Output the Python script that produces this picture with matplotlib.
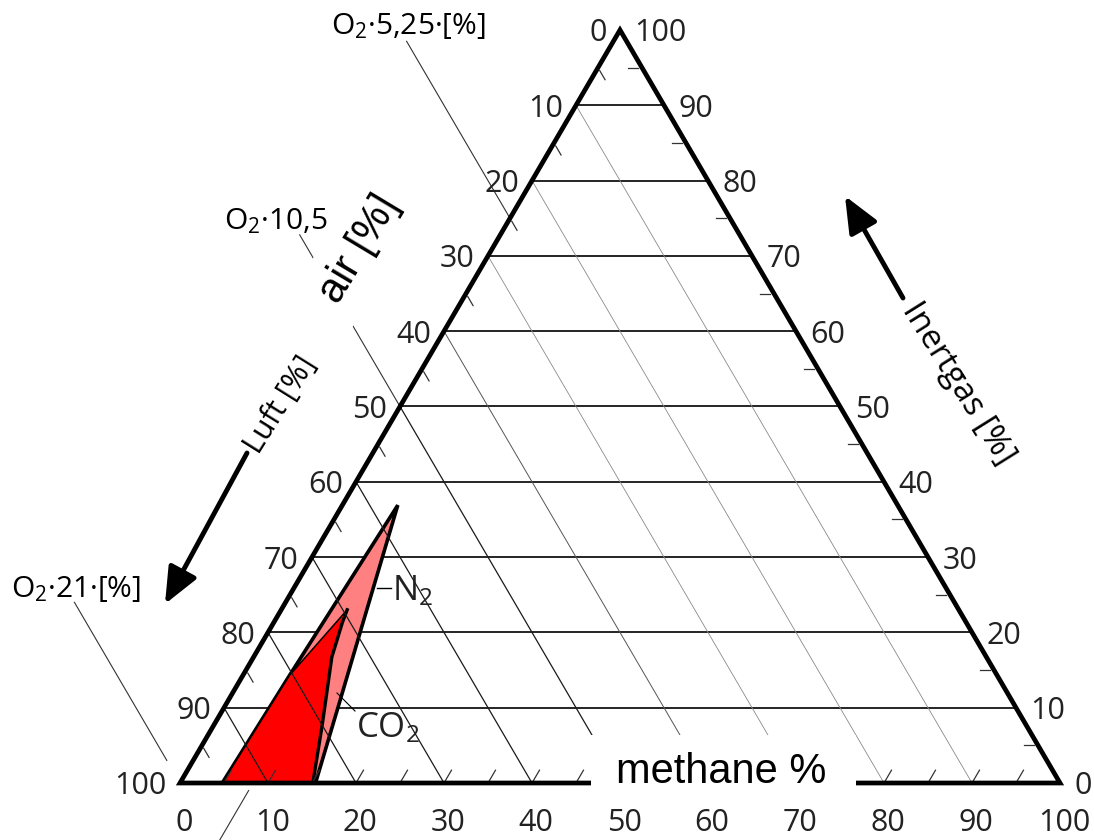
import numpy as np
import matplotlib.pyplot as plt
from matplotlib.patches import Polygon, Rectangle

plt.rcParams['font.family'] = ['Open Sans', 'DejaVu Sans']
plt.rcParams['mathtext.fontset'] = 'custom'
plt.rcParams['mathtext.rm'] = 'Open Sans'
plt.rcParams['mathtext.it'] = 'Open Sans:italic'
plt.rcParams['mathtext.bf'] = 'Open Sans:bold'

# scale values in percent
major = list(range(0, 101, 10))
minor = list(range(5, 100, 10))
bottom_ticks = list(range(5, 100, 5))

# explosion range methane + N2, boundary as (methane %, inert gas %)
n2_methane = [4.8, 5.3, 6.3, 9.9, 12.7, 15.4]
n2_inert = [0.0, 14.3, 36.9, 22.3, 11.0, 0.0]

# explosion range methane + CO2
co2_methane = [4.8, 5.3, 7.5, 7.8, 8.9, 12.2, 15.1]
co2_inert = [0.0, 14.3, 23.0, 21.3, 16.7, 8.0, 0.0]

# oxygen lines = lines of constant air (O2 = 0.21 * air), drawn out of the triangle
o2_text = ['O$_2$·5,25·[%]', 'O$_2$·10,5', 'O$_2$·21·[%]']
o2_air = [25, 50, 100]
o2_m_start = [-23.5, -22.8, -24.0]
o2_m_end = [0.0, 0.0, -3.0]

SQ3 = np.sqrt(3) / 2
W, H = 1094, 840


def tern(methane, inert):
    m = np.asarray(methane, dtype=float)
    i = np.asarray(inert, dtype=float)
    return m + i / 2, i * SQ3


def pt(methane, inert):
    x, y = tern(methane, inert)
    return float(x), float(y)


def fpx(px, py):
    # pixel position on the 1094x840 canvas -> axes fraction (axes = whole figure)
    return px / W, 1 - py / H


fig = plt.figure(figsize=(W / 100, H / 100), dpi=100)
ax = fig.add_axes([0, 0, 1, 1])
ax.set_xlim(-180 / 8.8, (W - 180) / 8.8)
ax.set_ylim(-(H - 783) / 8.695, 783 / 8.695)
ax.axis('off')

# horizontal lines = constant inert gas
for i in major[1:-1]:
    x, y = tern([0, 100 - i], [i, i])
    ax.plot(x, y, color='black', lw=1.2, zorder=1)

# slanted lines = constant air
for a in major[1:-1]:
    x, y = tern([0, 100 - a], [100 - a, 0])
    if a >= 50:
        c, w = '#1a1a1a', 0.9
    elif a == 40:
        c, w = '#555555', 0.7
    else:
        c, w = '#8a8a8a', 0.6
    ax.plot(x, y, color=c, lw=w, zorder=3)

# small ticks
for i in minor:
    x, y = tern([0.4, 1.6], [i - 0.4, i - 1.6])
    ax.plot(x, y, color='#333333', lw=0.9, zorder=3)
    x, y = tern([100 - i - 0.4, 100 - i - 1.6], [i, i])
    ax.plot(x, y, color='#333333', lw=0.9, zorder=3)
for m in bottom_ticks:
    x, y = tern([m, m], [0.3, 1.7])
    ax.plot(x, y, color='#333333', lw=0.9, zorder=3)

# explosion ranges
x, y = tern(n2_methane, n2_inert)
ax.add_patch(Polygon(np.column_stack([x, y]), closed=True, fc='#ff8080',
                     ec='black', lw=2.6, joinstyle='miter', zorder=2))
x, y = tern(co2_methane, co2_inert)
ax.add_patch(Polygon(np.column_stack([x, y]), closed=True, fc='#ff0000',
                     ec='black', lw=1.1, joinstyle='miter', zorder=2.5))
ax.plot(x[2:], y[2:], color='black', lw=2.4, zorder=2.6)

# triangle frame
x, y = tern([0, 100, 0], [0, 0, 100])
ax.add_patch(Polygon(np.column_stack([x, y]), closed=True, fill=False,
                     ec='black', lw=3.4, joinstyle='miter', zorder=5))

# scale labels
for i in major:
    ax.annotate(str(100 - i), pt(0, i), xytext=(-9.5, 0), textcoords='offset points',
                ha='right', va='center_baseline', fontsize=22, color='#222222', zorder=7)
    ax.annotate(str(i), pt(100 - i, i), xytext=(10.5, 0), textcoords='offset points',
                ha='left', va='center_baseline', fontsize=22, color='#222222', zorder=7)
for m in major:
    ax.annotate(str(m), pt(m, 0), xytext=(3, -26), textcoords='offset points',
                ha='center', va='center_baseline', fontsize=22, color='#222222', zorder=7)

# O2 lines and labels
o2_offsets = [(1, 5), (-17, 4), (1, 4)]
for txt, a, m0, m1, off in zip(o2_text, o2_air, o2_m_start, o2_m_end, o2_offsets):
    x, y = tern([m0, m1], [100 - a - m0, 100 - a - m1])
    ax.plot(x, y, color='#333333', lw=0.8, zorder=3)
    ax.annotate(txt, (float(x[0]), float(y[0])), xytext=off, textcoords='offset points',
                ha='center', va='baseline', fontsize=21.5, zorder=7)

# leader below the bottom edge
x, y = tern([8.3, 8.3], [-1.0, -9.0])
ax.plot(x, y, color='#333333', lw=0.8, zorder=3)

# N2 / CO2 labels with leaders
ax.plot(*zip(fpx(377, 588), fpx(391, 588)), transform=ax.transAxes,
        color='black', lw=1.0, zorder=3)
ax.plot(*zip(fpx(337, 693), fpx(355, 711)), transform=ax.transAxes,
        color='black', lw=0.8, zorder=3)
ax.text(*fpx(392, 600), 'N$_2$', transform=ax.transAxes, fontsize=25,
        ha='left', va='baseline', color='#222222', zorder=7)
ax.text(*fpx(356, 737), 'CO$_2$', transform=ax.transAxes, fontsize=25,
        ha='left', va='baseline', color='#222222', zorder=7)

# axis titles with arrows
arrow_style = dict(arrowstyle='-|>,head_length=1.05,head_width=0.45',
                   lw=3.5, color='black', mutation_scale=21,
                   shrinkA=0, shrinkB=0)
ax.text(*fpx(281, 405), 'Luft [%]', transform=ax.transAxes, rotation=58,
        rotation_mode='anchor', ha='center', va='center', fontsize=22, zorder=7)
ax.annotate('', xy=fpx(165, 604), xycoords='axes fraction',
            xytext=fpx(247, 453), textcoords='axes fraction',
            arrowprops=arrow_style, zorder=7)
ax.text(*fpx(958, 384), 'Inertgas [%]', transform=ax.transAxes, rotation=-58,
        rotation_mode='anchor', ha='center', va='center', fontsize=24, zorder=7)
ax.annotate('', xy=fpx(845, 196), xycoords='axes fraction',
            xytext=fpx(903, 298), textcoords='axes fraction',
            arrowprops=arrow_style, zorder=7)

# english overlay labels on white boxes
ax.add_patch(Rectangle(fpx(591, 800), 265 / W, 65 / H, transform=ax.transAxes,
                       fc='white', ec='none', zorder=6))
ax.text(*fpx(721, 783), 'methane %', transform=ax.transAxes, family='Liberation Sans',
        fontsize=30, ha='center', va='baseline', zorder=7)
ax.text(*fpx(359, 249), 'air [%]', transform=ax.transAxes, family='Liberation Sans',
        fontsize=30, rotation=59, rotation_mode='anchor', ha='center', va='center',
        bbox=dict(boxstyle='square,pad=0.35', fc='white', ec='none'), zorder=7)

fig.savefig('out.png', dpi=100)
